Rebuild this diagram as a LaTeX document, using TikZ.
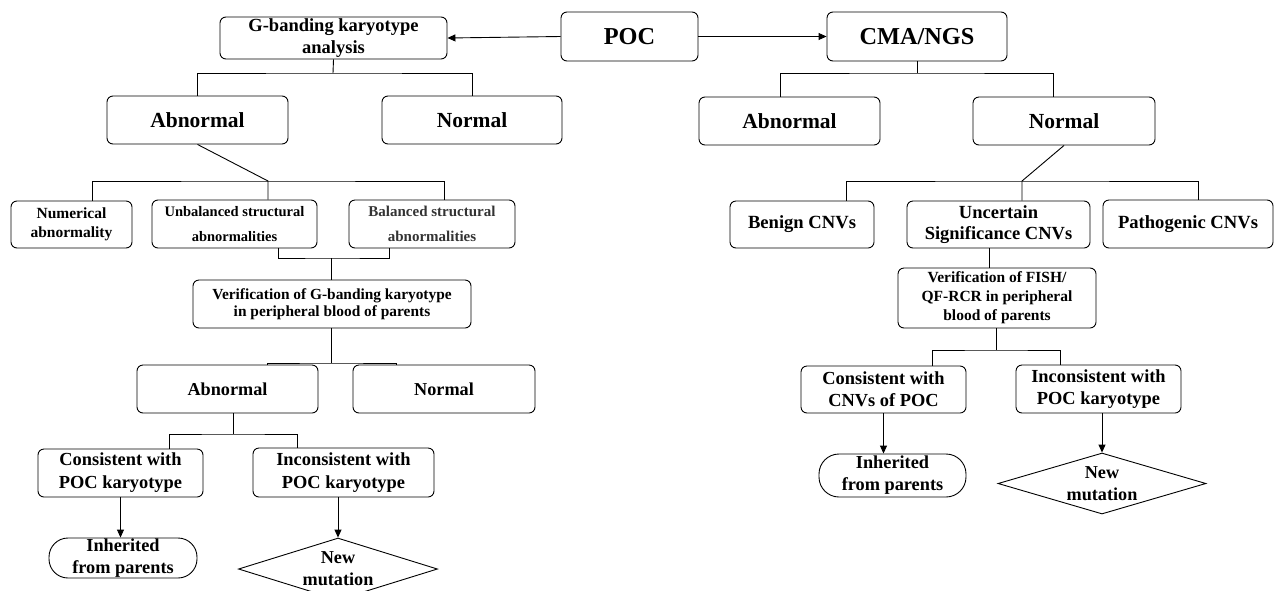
\documentclass[tikz,border=0pt]{standalone}
\usepackage{fontspec}
\setmainfont{Liberation Serif}
\usetikzlibrary{arrows.meta,shapes.geometric}
\newcommand{\fsz}[2]{\bfseries\fontsize{#1}{#2}\selectfont}
\begin{document}
\begin{tikzpicture}[x=1pt,y=-1pt,line width=0.9pt,
    box/.style={draw,rounded corners=6pt,align=center,inner sep=0pt},
    pill/.style={draw,rounded corners=19pt,align=center,inner sep=0pt},
    diam/.style={draw,diamond,inner sep=0pt},
    arr/.style={-{Triangle[length=8pt,width=7pt]}}]
  \useasboundingbox (0,0) rectangle (1274,590);
  \clip (0,0) rectangle (1274,590);

  \node[box,font=\fsz{24.3}{29},minimum width=137,minimum height=49] (poc) at (629.5,36.5) {POC};
  \node[box,font=\fsz{18.5}{22},minimum width=227,minimum height=42] (gkar) at (333.5,38) {G-banding karyotype\\analysis};
  \node[box,font=\fsz{24.3}{29},minimum width=180,minimum height=49] (cma) at (917,36.5) {CMA/NGS};

  \node[box,font=\fsz{21.5}{26},minimum width=181,minimum height=48] (gabn) at (197.5,120) {Abnormal};
  \node[box,font=\fsz{21.5}{26},minimum width=180,minimum height=48] (gnor) at (472,120) {Normal};
  \node[box,font=\fsz{21.5}{26},minimum width=181,minimum height=48] (cabn) at (789.5,121) {Abnormal};
  \node[box,font=\fsz{21.5}{26},minimum width=182,minimum height=48] (cnor) at (1064,121) {Normal};

  \node[box,font=\fsz{15.5}{19},minimum width=121,minimum height=47] (num) at (71.5,224.5) {Numerical\\abnormality};
  \node[box,font=\fsz{14.5}{25},minimum width=165,minimum height=48] (unbal) at (234.5,224) {Unbalanced structural\\abnormalities};
  \node[box,font=\fsz{15}{25},text=black!80,minimum width=166,minimum height=48] (bal) at (432,224) {Balanced structural\\abnormalities};
  \node[box,font=\fsz{15.4}{17},minimum width=278,minimum height=48] (gver) at (332,304) {Verification of G-banding karyotype\\in peripheral blood of parents};
  \node[box,font=\fsz{18.2}{22},minimum width=181,minimum height=48] (gabn2) at (227.5,389) {Abnormal};
  \node[box,font=\fsz{18.2}{22},minimum width=182,minimum height=48] (gnor2) at (444,389) {Normal};
  \node[box,font=\fsz{18.4}{23},minimum width=165,minimum height=48] (gcons) at (120.5,473) {Consistent with\\POC karyotype};
  \node[box,font=\fsz{18.4}{23},minimum width=181,minimum height=49] (gincons) at (343.5,472.5) {Inconsistent with\\POC karyotype};
  \node[pill,font=\fsz{18.3}{22},minimum width=148,minimum height=40] (ginh) at (123,558) {Inherited\\from parents};
  \node[diam,minimum width=199,minimum height=62,
    label={[font=\fsz{18.2}{22},align=center]center:{New\\mutation}}] (gnew) at (338,569) {};

  \node[box,font=\fsz{18.6}{22},minimum width=144,minimum height=47] (benign) at (802,224.5) {Benign CNVs};
  \node[box,font=\fsz{18.5}{21},minimum width=183,minimum height=47] (unc) at (998.5,224.5) {Uncertain\\Significance CNVs};
  \node[box,font=\fsz{18.6}{22},minimum width=170,minimum height=48] (path) at (1188,224) {Pathogenic CNVs};
  \node[box,font=\fsz{15.5}{19},minimum width=198,minimum height=60] (fver) at (997,298) {Verification of FISH/\\QF-RCR in peripheral\\blood of parents};
  \node[box,font=\fsz{18.4}{22},minimum width=165,minimum height=47] (ccons) at (883.5,389.5) {Consistent with\\CNVs of POC};
  \node[box,font=\fsz{18.4}{22},minimum width=165,minimum height=48] (cincons) at (1098.5,389) {Inconsistent with\\POC karyotype};
  \node[pill,rounded corners=20pt,font=\fsz{18.3}{22},minimum width=147,minimum height=43] (cinh) at (892.5,475.5) {Inherited\\from parents};
  \node[diam,minimum width=208,minimum height=61,
    label={[font=\fsz{18.2}{22},align=center]center:{New\\mutation}}] (cnew) at (1102,483.5) {};

  \draw[arr] (poc.west) -- (gkar.east);
  \draw[arr] (poc.east) -- (cma.west);

  \coordinate (gb1) at (333,73);
  \draw (gkar.south) -- (gb1);
  \draw (gabn.north) |- (gb1) -| (gnor.north);
  \coordinate (gb2) at (268,181);
  \draw (gabn.south) -- (gb2) -- (gb2 |- unbal.north);
  \draw ([xshift=20.5pt]num.north) |- (gb2) -| ([xshift=12pt]bal.north);
  \coordinate (gb3) at (331,258);
  \draw ([xshift=43.5pt]unbal.south) |- (gb3) -| ([xshift=-43pt]bal.south);
  \draw (gb3) -- (gb3 |- gver.north);
  \coordinate (gb4) at (331,363);
  \draw (gb4 |- gver.south) -- (gb4);
  \draw ([xshift=39.5pt]gabn2.north) |- (gb4) -| ([xshift=-48pt]gnor2.north);
  \coordinate (gb5) at (233,434);
  \draw (gb5 |- gabn2.south) -- (gb5);
  \draw ([xshift=48.5pt]gcons.north) |- (gb5) -| ([xshift=-46.5pt]gincons.north);
  \draw[arr] (gcons.south) -- (gcons.south |- ginh.north);
  \draw[arr] (gnew.north |- gincons.south) -- (gnew.north);

  \coordinate (cb1) at (917,73);
  \draw (cma.south) -- (cb1);
  \draw ([xshift=-9.5pt]cabn.north) |- (cb1) -| ([xshift=-11pt]cnor.north);
  \coordinate (cb2) at (1022,181);
  \draw (cnor.south) -- (cb2) -- (cb2 |- unc.north);
  \draw ([xshift=44pt]benign.north) |- (cb2) -| ([xshift=10pt]path.north);
  \draw ([xshift=-9.5pt]unc.south) -- ([xshift=-9.5pt]unc.south |- fver.north);
  \coordinate (cb3) at (996,350);
  \draw (cb3 |- fver.south) -- (cb3);
  \draw ([xshift=48.5pt]ccons.north) |- (cb3) -| ([xshift=-38.5pt]cincons.north);
  \draw[arr] (ccons.south) -- (ccons.south |- cinh.north);
  \draw[arr] (cnew.north |- cincons.south) -- (cnew.north);
\end{tikzpicture}
\end{document}
